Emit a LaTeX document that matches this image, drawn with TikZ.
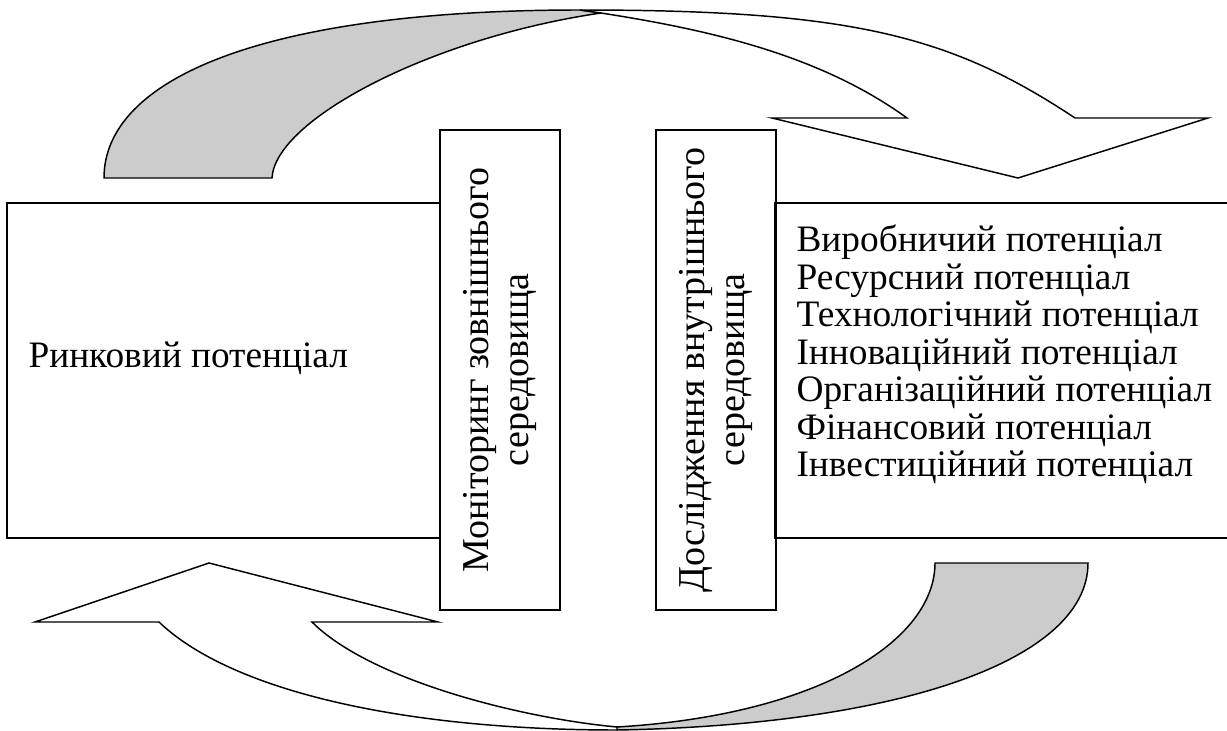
\documentclass[tikz,border=0pt]{standalone}
\usepackage{fontspec}
\setmainfont{Liberation Serif}
\usepackage{tikz}
\usetikzlibrary{positioning}

\begin{document}
\begin{tikzpicture}[
  x=0.75pt, y=-0.75pt,
  every node/.style={inner sep=0pt, font=\fontsize{28}{28.1}\selectfont},
  box/.style={draw, line width=1.1pt},
  vbox/.style={box, rotate=90, minimum width=360pt, minimum height=90pt, align=center,
    font=\fontsize{28.5}{30}\selectfont},
  backface/.style={draw, fill=gray!40, line width=1.1pt},
  front/.style={draw, fill=white, line width=1.1pt}
  ]
  \useasboundingbox (0,0) rectangle (1227,731);
  \node[box, minimum width=324.75pt, minimum height=251.25pt] (market) at (223.5,370.5) {};
  \node[anchor=west] (marketlabel) at ([xshift=16.5pt, yshift=9.4pt]market.west) {Ринковий потенціал};
  \node[vbox] (monitor) at (500,370) {Моніторинг зовнішнього\\середовища};
  \node[vbox] (research) at (716,370) {Дослідження внутрішнього\\середовища};
  \node[box, minimum width=348.75pt, minimum height=251.25pt] (potentials) at (1007.5,370.5) {};
  \node[anchor=west, align=left] (potlist) at ([xshift=16.5pt, yshift=12pt]potentials.west) {%
    Виробничий потенціал\\
    Ресурсний потенціал\\
    Технологічний потенціал\\
    Інноваційний потенціал\\
    Організаційний потенціал\\
    Фінансовий потенціал\\
    Інвестиційний потенціал};

  \draw[backface] (104,178) .. controls (104,80) and (260,10) .. (580,10) -- (601,13)
    .. controls (430,38) and (275,120) .. (272,178) -- cycle;
  \draw[front] (601,13) .. controls (710,30) and (820,55) .. (907,118) -- (772,118)
    -- (1018,178) -- (1208,118) -- (1075,118) .. controls (950,35) and (850,10) .. (580,10) -- cycle;

  \draw[backface] (935,563) -- (1088,563) .. controls (1088,660) and (900,725) .. (617,730)
    -- (617,727) .. controls (820,715) and (935,640) .. (935,563) -- cycle;
  \draw[front] (617,727) .. controls (520,718) and (370,680) .. (312,622) -- (438,622)
    -- (209,563) -- (35,622) -- (159,622) .. controls (230,690) and (400,730) .. (617,730) -- cycle;
\end{tikzpicture}
\end{document}
